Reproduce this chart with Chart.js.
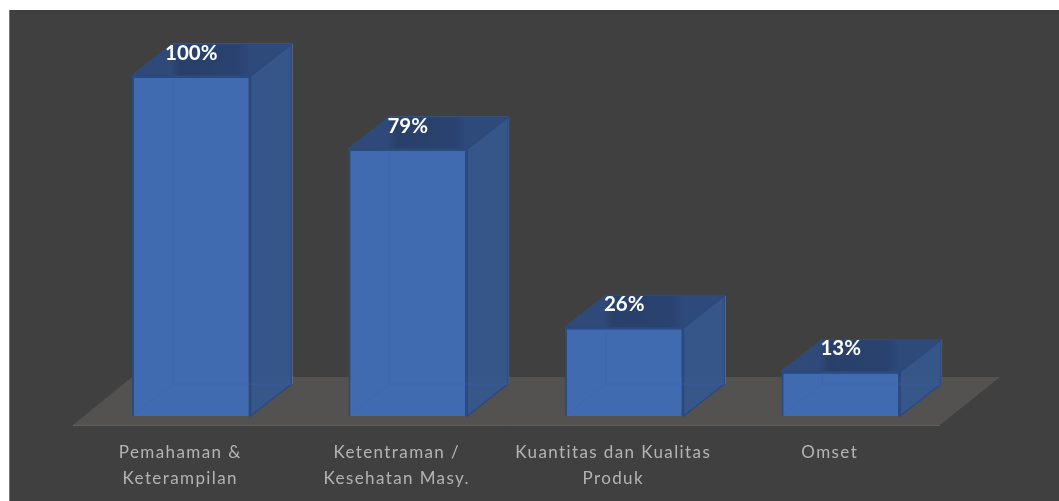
<!DOCTYPE html>
<html>
<head>
<meta charset="utf-8">
<style>
  html, body { margin: 0; padding: 0; background: #fff; overflow: hidden; }
  #wrap { position: absolute; left: 9px; top: 10px; width: 1050px; height: 491px; background: #404040; }
  #wrap:before { content: ''; position: absolute; left: 0; top: 0; bottom: 0; width: 1px; background: #777; }
  canvas { position: absolute; left: 0; top: 0; }
</style>
<script src="https://cdn.jsdelivr.net/npm/chart.js@4"></script>
</head>
<body>
<div id="wrap"><canvas id="impactChart" width="1050" height="491"></canvas></div>
<script>
/* 3D look column chart: faces are added around the library's own bars */

var categories = [
  ['Pemahaman &', 'Keterampilan'],
  ['Ketentraman /', 'Kesehatan Masy.'],
  ['Kuantitas dan Kualitas', 'Produk'],
  ['Omset']
];
var percentValues = [100, 78.5, 26, 13];
var percentLabels = ['100%', '79%', '26%', '13%'];

var DEPTH_X = 41;
var DEPTH_Y = 32;

function poly(ctx, pts, fill, stroke, lw) {
  ctx.beginPath();
  ctx.moveTo(pts[0][0], pts[0][1]);
  for (var i = 1; i < pts.length; i++) ctx.lineTo(pts[i][0], pts[i][1]);
  ctx.closePath();
  if (fill) { ctx.fillStyle = fill; ctx.fill(); }
  if (stroke) { ctx.strokeStyle = stroke; ctx.lineWidth = lw || 1; ctx.stroke(); }
}

var floorPlugin = {
  id: 'floor3d',
  beforeDraw: function(chart) {
    chart.ctx.letterSpacing = '1.4px';
  },
  beforeDatasetsDraw: function(chart) {
    var ctx = chart.ctx, a = chart.chartArea;
    var front = a.bottom + 9, back = front - 48;
    ctx.save();
    poly(ctx, [[a.left - 10, front], [a.right - 9, front], [a.right + 51, back], [a.left + 49, back]], '#545151', null);
    ctx.strokeStyle = '#605e5d';
    ctx.lineWidth = 1;
    ctx.beginPath();
    ctx.moveTo(a.left - 10, front + 0.5);
    ctx.lineTo(a.right - 9, front + 0.5);
    ctx.stroke();
    ctx.restore();
  }
};

var facesPlugin = {
  id: 'faces3d',
  beforeDatasetsDraw: function(chart) {
    var ctx = chart.ctx;
    ctx.save();
    chart.getDatasetMeta(0).data.forEach(function(bar) {
      var l = bar.x - bar.width / 2, r = bar.x + bar.width / 2, t = bar.y, b = bar.base;
      // light outline of the back edges
      ctx.strokeStyle = 'rgba(175,175,175,0.8)';
      ctx.lineWidth = 1;
      ctx.beginPath();
      ctx.moveTo(l, t);
      ctx.lineTo(l + DEPTH_X, t - DEPTH_Y);
      ctx.lineTo(r + DEPTH_X + 0.5, t - DEPTH_Y);
      ctx.lineTo(r + DEPTH_X + 0.5, b - DEPTH_Y);
      ctx.stroke();
      // side
      poly(ctx, [[r, t], [r + DEPTH_X, t - DEPTH_Y], [r + DEPTH_X, b - DEPTH_Y], [r, b]], 'rgba(54,86,140,0.96)', '#2b4a7e', 1.5);
      // top
      var g = ctx.createLinearGradient(l, 0, r + DEPTH_X, 0);
      g.addColorStop(0, '#30497a');
      g.addColorStop(0.24, '#2f4a7a');
      g.addColorStop(0.30, '#284069');
      g.addColorStop(0.66, '#294270');
      g.addColorStop(0.74, '#2e4a7b');
      g.addColorStop(1, '#2e4a7b');
      poly(ctx, [[l, t], [l + DEPTH_X, t - DEPTH_Y], [r + DEPTH_X, t - DEPTH_Y], [r, t]], g, '#2b4a7e', 1.5);
    });
    ctx.restore();
  },
  afterDatasetsDraw: function(chart) {
    var ctx = chart.ctx;
    ctx.save();
    chart.getDatasetMeta(0).data.forEach(function(bar, i) {
      var l = bar.x - bar.width / 2, r = bar.x + bar.width / 2, t = bar.y, b = bar.base;
      // faint see-through edges of the far corner
      ctx.strokeStyle = 'rgba(55,100,175,0.5)';
      ctx.lineWidth = 1;
      ctx.beginPath();
      ctx.moveTo(l + 1, b - 1);
      ctx.lineTo(l + DEPTH_X, b - DEPTH_Y);
      ctx.lineTo(r + DEPTH_X, b - DEPTH_Y);
      ctx.moveTo(l + DEPTH_X, b - DEPTH_Y);
      ctx.lineTo(l + DEPTH_X, t + 1);
      ctx.stroke();
      // value label
      ctx.letterSpacing = '0px';
      ctx.fillStyle = '#ffffff';
      ctx.font = 'bold 20.5px Lato, "Open Sans", sans-serif';
      ctx.textAlign = 'center';
      ctx.textBaseline = 'middle';
      ctx.fillText(percentLabels[i], bar.x, t - 23);
    });
    ctx.restore();
  }
};

new Chart(document.getElementById('impactChart'), {
  type: 'bar',
  data: {
    labels: categories,
    datasets: [{
      data: percentValues,
      backgroundColor: 'rgba(65,108,180,0.97)',
      borderColor: '#2a4a80',
      borderWidth: 2,
      barPercentage: 0.548,
      categoryPercentage: 1
    }]
  },
  options: {
    responsive: false,
    animation: false,
    layout: { padding: { left: 74, right: 110, top: 66, bottom: 0 } },
    plugins: { legend: { display: false }, tooltip: { enabled: false } },
    scales: {
      x: {
        grid: { display: false },
        border: { display: false },
        afterFit: function(scale) { scale.height = 85; },
        ticks: {
          color: '#b4b4b4',
          autoSkip: false,
          maxRotation: 0,
          labelOffset: -11,
          padding: 16,
          font: { family: 'Lato', size: 17, lineHeight: 1.51 }
        }
      },
      y: { display: false, min: 0, max: 100 }
    }
  },
  plugins: [floorPlugin, facesPlugin]
});
</script>
</body>
</html>
